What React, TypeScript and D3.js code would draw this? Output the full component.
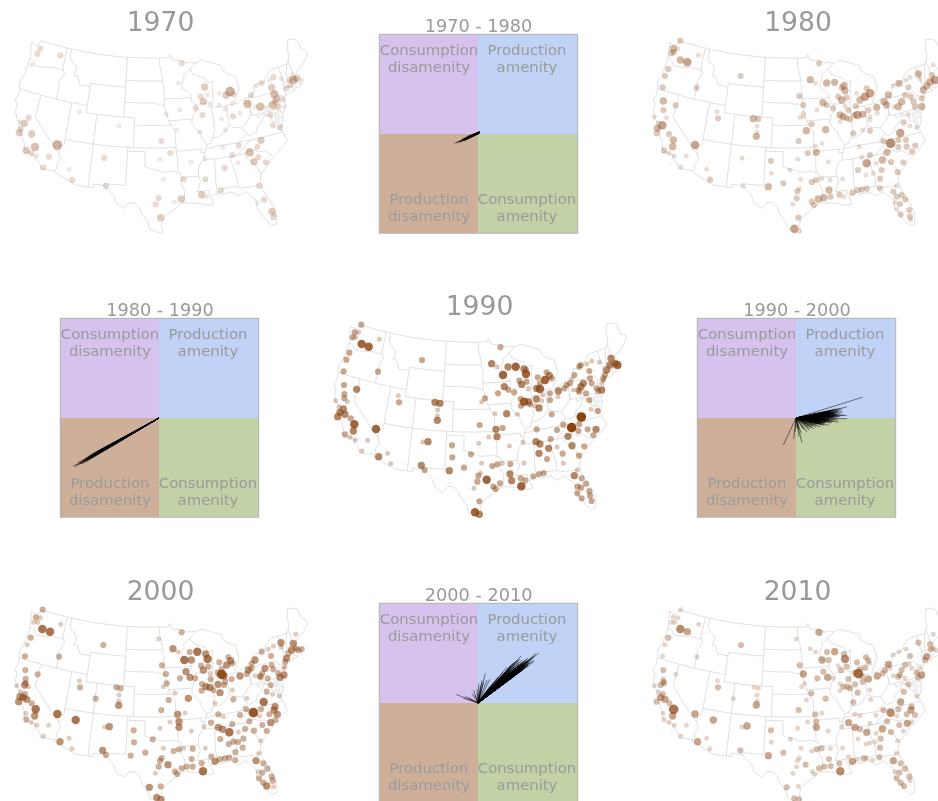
import React from 'react';
import * as d3 from 'd3';

type P = [number, number, number];

// ---- state and national borders, lon/lat ----
const outline: [number, number][] = [[-124.7,48.4],[-123.2,48.2],[-122.8,49],[-95.15,49],[-95.15,49.38],[-94.8,49.3],[-94.6,48.7],[-93.8,48.55],[-92.9,48.6],[-92,48.3],[-91.4,48.07],[-90.8,48.2],[-89.6,48],[-88.4,48.3],[-84.5,47.2],[-84.3,46.45],[-83.6,46],[-83.3,45.8],[-82,45.4],[-81.8,43.6],[-82.45,43],[-82.5,42.6],[-83.1,42.2],[-83.1,42],[-82.7,41.7],[-81.3,42.2],[-79.8,42.27],[-78.9,42.9],[-79.05,43.27],[-78.7,43.6],[-76.8,43.63],[-76.4,44.1],[-75.3,44.85],[-74.7,45],[-71.5,45],[-71.1,45.3],[-70.6,45.9],[-70.5,46.5],[-70.5,46.9],[-69.7,48],[-68.6,47.8],[-67.9,47.4],[-67.8,46.1],[-67.3,45.8],[-66.9,45.3],[-68.2,44.4],[-69.1,44],[-70.2,43.6],[-70.7,43.05],[-70.8,42.7],[-71,42.3],[-70.6,41.95],[-70,41.8],[-70.2,42.07],[-69.95,41.7],[-70.65,41.55],[-71.2,41.5],[-71.85,41.32],[-73,41.2],[-73.65,40.98],[-74,40.7],[-74,40.45],[-74.1,39.75],[-74.9,38.95],[-75.5,39.5],[-75.1,38.8],[-75.05,38.45],[-75.6,37.5],[-75.95,37.15],[-75.9,37.9],[-76.2,38.9],[-76.1,39.4],[-76.5,39.1],[-76.4,38.2],[-76.3,37.6],[-76.3,37],[-75.98,36.9],[-75.75,36.2],[-75.5,35.25],[-76.5,34.65],[-77.9,33.9],[-79,33.4],[-79.9,32.7],[-81,32],[-81.4,31],[-81.3,29.9],[-80.6,28.4],[-80.05,26.9],[-80.15,25.75],[-80.4,25.2],[-81.1,25.15],[-81.8,26.1],[-82.2,26.9],[-82.75,27.8],[-82.65,28.8],[-83.4,29.5],[-84,30.1],[-85.3,29.7],[-86.2,30.4],[-87.5,30.3],[-88,30.25],[-88.1,30.65],[-88.9,30.4],[-89.6,30.2],[-89.4,29.9],[-89.2,29.1],[-90.2,29.1],[-91.3,29.4],[-92.3,29.55],[-93.8,29.7],[-94.7,29.4],[-95.3,28.9],[-96.4,28.35],[-97.2,27.6],[-97.4,26.9],[-97.15,25.95],[-97.6,25.9],[-99.1,26.4],[-99.5,27.5],[-100.3,28.3],[-100.8,29.2],[-101.4,29.75],[-102.4,29.8],[-103.15,28.98],[-104.5,29.65],[-104.9,30.6],[-106.5,31.75],[-108.2,31.78],[-108.2,31.33],[-111.07,31.33],[-114.8,32.5],[-114.72,32.72],[-117.12,32.53],[-117.3,33],[-118.4,33.75],[-118.5,34.03],[-119.2,34.15],[-120.5,34.45],[-120.65,35.15],[-121.9,36.6],[-122,36.95],[-122.5,37.5],[-122.5,37.8],[-123,38],[-123.7,38.9],[-123.8,39.8],[-124.35,40.4],[-124.1,41],[-124.2,42],[-124.55,42.85],[-124.1,44],[-123.95,46.2],[-124.05,46.7],[-124.7,48.4]];
const innerBorders: [number, number][][] = [
  [[-124,46.25],[-123.4,46.2],[-123,46.1],[-122.8,45.7],[-122.2,45.6],[-121.2,45.65],[-119.3,45.93],[-119,46],[-116.92,46]],
  [[-117.03,49],[-117.04,46.4],[-116.92,46],[-116.46,45.6],[-116.85,44.9],[-117.2,44.4],[-117.03,43.85],[-117.03,42]],
  [[-124.2,42],[-111.05,42]],
  [[-120,42],[-120,39],[-114.63,35]],
  [[-114.63,35],[-114.15,34.27],[-114.5,33.9],[-114.72,33.4],[-114.5,33],[-114.72,32.72]],
  [[-114.63,35],[-114.75,36.1],[-114.05,36.2],[-114.05,37]],
  [[-114.04,42],[-114.05,37]],
  [[-114.05,37],[-94.62,37]],
  [[-111.05,42],[-111.05,41],[-102.05,41]],
  [[-109.05,41],[-109.05,31.33]],
  [[-116.05,49],[-116.05,48],[-115.7,47.45],[-114.8,47],[-114.3,46.65],[-114.5,45.55],[-113.9,45.65],[-113.45,45.05],[-113,44.45],[-112.3,44.55],[-111.5,44.55],[-111.05,44.48]],
  [[-111.05,44.48],[-111.05,42]],
  [[-111.05,44.48],[-111.05,45],[-104.05,45]],
  [[-104.05,49],[-104.05,41]],
  [[-102.05,41],[-102.05,37]],
  [[-102.05,40],[-95.3,40]],
  [[-104.05,45.94],[-96.56,45.94]],
  [[-104.05,43],[-98.5,43],[-97.9,42.8],[-97.2,42.85],[-96.45,42.5]],
  [[-103,37],[-103.04,36.5],[-100,36.5],[-100,34.56],[-99.2,34.3],[-98.1,34.13],[-97.2,33.8],[-96.5,33.8],[-95.2,33.9],[-94.48,33.64]],
  [[-103.04,36.5],[-103.06,32],[-106.6,32],[-106.5,31.75]],
  [[-94.48,33.64],[-94.04,33.55],[-94.04,32],[-93.55,31.2],[-93.7,30.3],[-93.85,29.7]],
  [[-94.48,33.64],[-94.43,35.4],[-94.62,36.5],[-94.62,39.1],[-94.9,39.4],[-95.3,40]],
  [[-94.62,36.5],[-90.15,36.5],[-90.37,36],[-89.7,36]],
  [[-94.04,33.02],[-91.17,33]],
  [[-89.15,37],[-89.5,36.5],[-89.7,36],[-90.07,35.1],[-90.6,34.7],[-91.1,33.9],[-91.17,33],[-90.9,32.3],[-91.6,31],[-89.73,31],[-89.8,30.6],[-89.55,30.2]],
  [[-88.2,35],[-88.47,31.9],[-88.4,30.3]],
  [[-87.5,30.3],[-87.6,31],[-85.05,31]],
  [[-85.6,35],[-85.18,32.87],[-85,32.3],[-85.05,31],[-84.86,30.7],[-82.2,30.55],[-82.05,30.36],[-82,30.75],[-81.45,30.72]],
  [[-90.1,35],[-83.1,35]],
  [[-84.32,35],[-83.1,35.77],[-81.68,36.59]],
  [[-83.1,35],[-82.9,34.5],[-82,33.5],[-81.5,33],[-81.1,32.1],[-80.9,32.05]],
  [[-83.1,35],[-82.3,35.2],[-81.05,35.15],[-80.8,34.82],[-79.67,34.8],[-78.55,33.86]],
  [[-89.5,36.5],[-88.07,36.5],[-88.07,36.68],[-83.68,36.6],[-81.68,36.59],[-75.87,36.55]],
  [[-89.15,37],[-88.5,37.1],[-88.05,37.8],[-87.1,37.8],[-86.5,38],[-85.8,38.3],[-85.4,38.7],[-84.8,39.1],[-84.3,38.8],[-83.7,38.65],[-82.6,38.4],[-82,37.55]],
  [[-83.68,36.6],[-81.97,37.54],[-81.68,37.2],[-80.3,37.5],[-79.95,38.2],[-79.3,38.4],[-78.87,38.76],[-78.35,39.4],[-77.83,39.13]],
  [[-82.6,38.4],[-81.75,39],[-81,39.55],[-80.6,40],[-80.52,40.64],[-80.52,42.1]],
  [[-80.52,40.64],[-80.52,39.72],[-75.79,39.72]],
  [[-79.48,39.72],[-79.48,39.2],[-78.4,39.6],[-77.72,39.32],[-77.05,38.85],[-77.3,38.4],[-76.3,37.95]],
  [[-75.79,39.72],[-75.7,38.45],[-75.05,38.45]],
  [[-75.79,39.72],[-75.5,39.8],[-75.1,40],[-75.2,40.7],[-74.7,41.35],[-73.9,41]],
  [[-79.76,42.27],[-79.76,42],[-75.35,42],[-74.7,41.35]],
  [[-73.65,41],[-73.5,41.3],[-73.5,42.05],[-73.27,42.75],[-73.25,43.6],[-73.35,45]],
  [[-73.5,42.05],[-71.38,42.02],[-71.2,41.5]],
  [[-71.8,42.02],[-71.85,41.32]],
  [[-73.27,42.75],[-71.3,42.7],[-70.85,42.88]],
  [[-72.46,42.73],[-72.3,43.6],[-72.05,44.1],[-71.5,45]],
  [[-71.08,45.3],[-70.98,43.4],[-70.7,43.07]],
  [[-87.2,41.76],[-84.8,41.73],[-83.45,41.73],[-82.9,41.9]],
  [[-84.8,41.73],[-84.8,39.1]],
  [[-87.53,41.76],[-87.53,39.35],[-87.6,38.7],[-88.05,37.8]],
  [[-87.53,41.76],[-87.2,42.5],[-87,43.2],[-86.9,44.6],[-86.6,45.3],[-87.6,45.1],[-88,45.8],[-89,46.1],[-90.4,46.55],[-90.9,47.3]],
  [[-90.64,42.5],[-87.2,42.5]],
  [[-90.64,42.5],[-90.2,41.8],[-91.1,41.2],[-91.42,40.4],[-91.5,40],[-90.7,39],[-90.2,38.8],[-90.2,38.4],[-89.5,37.3],[-89.15,37]],
  [[-90.64,42.5],[-91.2,43],[-91.22,43.5],[-91.25,43.85],[-92,44.4],[-92.8,44.75],[-92.75,45.6],[-92.3,46.1],[-92.3,46.65],[-92,46.7],[-90.9,47.3],[-89.6,48]],
  [[-96.45,43.5],[-91.22,43.5]],
  [[-95.77,40.58],[-91.73,40.61],[-91.42,40.4]],
  [[-96.45,43.5],[-96.45,42.5],[-96.1,41.7],[-95.9,41.2],[-95.77,40.58],[-95.3,40]],
  [[-96.45,43.5],[-96.45,45.3],[-96.85,45.6],[-96.56,45.94],[-96.85,46.9],[-97.2,48],[-97.23,49]],
  [[-120.45,34.03],[-119.6,34.03]],
  [[-118.6,33.45],[-118.35,33.35]],
  [[-118.55,32.95],[-118.35,32.82]],
];

// ---- cities: read-off map position and size class per decade ----
const cities1970: P[] = [[121,146,2],[112,161,2],[181,166,2],[96,195,1],[86,353,2],[73,370,3],[60,365,1],[62,386,2],[58,398,3],[95,402,3],[105,441,4],[172,435,5],[79,451,3],[94,460,2],[109,468,1],[147,470,2],[130,502,2],[207,508,1],[217,540,2],[238,335,1],[357,377,1],[313,474,2],[318,558,2],[484,423,2],[511,459,2],[480,478,1],[490,538,1],[476,594,2],[467,613,2],[523,606,1],[544,597,3],[482,653,3],[573,486,1],[551,538,2],[605,584,3],[620,590,1],[662,570,2],[498,342,1],[530,390,1],[545,190,2],[535,249,1],[539,329,1],[587,325,2],[607,345,2],[614,261,3],[602,290,2],[622,285,1],[610,305,3],[629,316,1],[658,280,1],[690,275,5],[678,286,3],[700,283,2],[657,315,1],[676,327,1],[665,356,1],[699,349,2],[720,340,1],[697,310,1],[676,390,1],[600,395,1],[668,442,1],[716,437,2],[697,465,2],[615,476,1],[735,305,1],[743,312,4],[753,285,2],[765,320,1],[781,320,4],[800,323,1],[769,257,1],[785,249,2],[820,231,2],[808,241,1],[815,262,3],[845,236,1],[823,283,4],[830,297,3],[847,298,2],[818,315,4],[835,320,2],[825,305,2],[853,320,1],[811,344,2],[819,376,2],[840,382,2],[860,265,2],[870,255,2],[880,240,4],[870,240,2],[890,235,3],[905,240,1],[875,225,1],[783,421,3],[772,441,2],[749,457,4],[775,471,2],[762,485,3],[798,487,2],[714,488,1],[674,504,2],[616,538,2],[778,558,2],[792,599,2],[773,608,1],[816,634,3],[820,652,2],[822,643,1]];
const cities1980: P[] = [[121,122,2],[100,146,3],[113,146,1],[102,157,2],[94,160,2],[175,166,1],[121,180,3],[142,187,4],[85,207,2],[75,228,2],[68,262,2],[70,303,3],[70,330,2],[107,316,2],[79,353,1],[43,350,1],[55,368,1],[67,376,4],[52,385,3],[50,400,2],[87,402,2],[100,420,3],[98,440,3],[165,435,4],[72,451,2],[87,460,1],[103,468,1],[139,468,1],[123,501,1],[200,508,1],[210,539,2],[170,263,2],[302,228,2],[231,335,1],[234,355,2],[340,356,3],[355,357,2],[351,378,1],[351,397,1],[349,409,3],[306,474,1],[310,558,1],[393,483,2],[394,520,1],[385,560,3],[430,550,2],[450,510,1],[472,574,2],[478,566,1],[515,546,2],[528,540,2],[545,536,1],[482,538,1],[470,595,2],[458,613,1],[515,605,2],[522,615,2],[535,597,3],[552,593,3],[475,653,2],[463,686,4],[478,692,1],[503,459,2],[529,457,3],[473,478,1],[476,423,2],[499,392,3],[515,372,2],[565,486,1],[527,437,1],[546,430,1],[570,540,1],[567,570,3],[572,590,2],[598,584,2],[612,590,1],[608,537,1],[537,190,2],[511,239,3],[527,250,1],[478,288,2],[490,315,2],[531,329,1],[549,308,3],[560,315,2],[579,325,2],[490,340,1],[480,352,1],[490,350,1],[557,389,3],[560,249,3],[584,247,3],[612,257,3],[605,263,2],[615,272,3],[595,290,2],[605,300,3],[620,293,2],[625,330,2],[615,318,1],[600,345,3],[610,350,3],[620,355,2],[600,365,1],[630,358,2],[650,280,1],[680,265,2],[690,280,4],[675,290,4],[660,300,3],[648,318,2],[652,345,4],[668,343,3],[642,345,2],[685,330,2],[710,322,3],[690,360,1],[712,340,1],[668,390,1],[690,350,1],[690,392,2],[640,400,2],[658,440,1],[745,285,3],[732,305,3],[740,315,3],[762,320,1],[775,320,3],[785,305,3],[795,285,2],[812,290,2],[820,305,2],[845,320,3],[825,320,2],[760,257,1],[777,250,3],[798,241,1],[810,232,1],[835,222,3],[805,262,2],[840,238,1],[845,295,2],[860,258,3],[850,270,3],[870,245,3],[885,240,4],[875,225,2],[880,195,1],[805,343,1],[791,367,2],[810,378,1],[830,382,1],[781,399,4],[730,423,2],[752,430,5],[775,420,2],[798,420,2],[800,440,2],[826,437,2],[816,455,2],[775,441,2],[741,457,3],[727,480,3],[753,486,2],[790,487,2],[708,490,1],[773,516,2],[690,465,2],[665,472,1],[680,490,4],[700,520,1],[654,510,2],[678,525,1],[725,510,2],[720,536,2],[720,565,2],[680,566,2],[665,568,2],[652,570,2],[637,578,2],[770,558,1],[760,575,2],[770,590,2],[785,585,2],[796,598,2],[765,608,1],[780,612,2],[770,628,1],[782,643,2],[808,630,2],[810,650,2],[812,660,1]];
const cities1990: P[] = [[124,119,2],[104,142,2],[116,142,1],[98,157,2],[107,157,1],[178,163,1],[125,177,4],[146,185,4],[88,203,2],[79,224,2],[71,259,2],[306,225,2],[174,260,2],[72,300,2],[110,313,3],[73,327,2],[73,340,2],[82,350,1],[47,347,1],[57,365,1],[70,372,3],[60,382,3],[75,388,3],[53,395,3],[92,400,2],[103,418,4],[100,438,3],[168,432,4],[75,448,2],[90,457,1],[106,465,1],[143,466,1],[126,498,1],[203,505,1],[176,515,3],[212,536,1],[235,332,1],[237,352,2],[345,352,3],[360,355,3],[353,375,1],[352,393,1],[352,406,3],[324,470,3],[308,471,1],[304,541,3],[314,555,2],[396,481,2],[397,517,2],[388,557,3],[432,548,2],[453,508,2],[485,535,1],[517,543,2],[532,538,2],[547,535,1],[475,572,2],[482,564,1],[472,590,2],[500,584,4],[462,610,1],[520,605,2],[527,612,2],[540,595,2],[478,649,2],[465,682,4],[478,688,3],[506,456,1],[531,455,3],[476,475,1],[479,420,2],[528,433,3],[548,429,2],[560,386,3],[525,386,1],[592,388,1],[568,483,1],[485,350,1],[495,340,2],[534,325,2],[553,305,3],[565,314,2],[582,322,2],[541,187,2],[515,236,3],[531,246,1],[564,246,3],[587,245,4],[549,270,4],[612,252,3],[618,267,4],[618,255,2],[598,287,2],[620,290,2],[605,298,3],[625,312,1],[602,342,2],[612,350,4],[625,350,3],[603,362,2],[630,358,2],[649,342,3],[657,369,3],[645,362,1],[665,347,1],[690,345,2],[714,335,1],[653,277,2],[680,262,2],[688,272,3],[675,285,4],[695,280,2],[660,295,2],[650,310,3],[660,312,4],[668,330,1],[690,325,2],[715,318,3],[695,388,2],[650,433,2],[648,470,3],[660,477,3],[657,505,3],[686,490,3],[692,462,2],[711,486,1],[681,522,2],[728,506,2],[612,534,1],[609,471,1],[730,419,2],[755,428,5],[784,396,5],[778,418,2],[803,433,2],[828,433,3],[820,451,2],[775,438,2],[744,454,3],[711,435,2],[756,482,3],[793,484,2],[777,512,2],[730,535,1],[571,537,2],[570,567,3],[575,587,3],[602,580,2],[616,586,2],[604,604,4],[640,574,2],[657,567,2],[671,564,2],[772,555,1],[763,572,3],[785,580,2],[773,605,2],[798,596,2],[783,608,2],[772,625,2],[785,640,2],[808,618,2],[810,632,2],[815,648,2],[740,300,2],[733,310,2],[750,295,2],[763,270,2],[755,283,1],[782,240,2],[800,237,1],[815,228,1],[838,232,1],[760,315,1],[778,320,2],[790,295,3],[783,305,3],[775,315,2],[810,280,2],[798,325,2],[815,295,2],[830,310,2],[845,315,3],[835,318,2],[808,345,2],[813,373,1],[833,378,2],[808,258,2],[845,295,1],[850,285,1],[860,255,3],[855,270,2],[850,280,2],[873,220,3],[870,240,3],[885,235,3],[892,240,4],[778,245,2]];
const cities2000: P[] = [[128,119,2],[108,142,2],[121,143,1],[101,157,1],[113,157,1],[182,163,1],[127,177,4],[150,185,4],[92,203,2],[82,224,1],[75,259,2],[310,225,2],[177,260,2],[476,207,1],[545,187,2],[76,300,2],[113,313,2],[77,327,2],[77,340,2],[86,350,1],[50,347,1],[62,365,1],[74,345,3],[75,372,2],[70,382,3],[60,380,3],[80,388,3],[56,395,3],[95,400,2],[107,418,4],[104,438,3],[172,432,4],[77,430,1],[79,448,2],[94,457,1],[110,465,1],[146,466,1],[130,498,1],[207,505,1],[227,450,4],[180,515,3],[216,536,1],[238,332,1],[240,352,2],[287,386,2],[349,352,2],[362,355,2],[357,375,1],[356,393,1],[356,406,3],[328,470,3],[314,471,1],[308,541,3],[318,555,2],[401,481,2],[402,517,2],[392,557,2],[436,548,2],[458,508,2],[490,535,1],[521,543,2],[537,538,2],[551,535,1],[578,536,2],[480,572,2],[485,564,2],[476,590,2],[504,584,3],[466,610,1],[525,605,2],[532,612,2],[545,595,2],[560,590,2],[578,590,2],[575,567,2],[482,649,2],[448,652,3],[470,682,3],[483,688,3],[510,456,1],[480,475,1],[484,420,2],[537,455,3],[537,472,3],[533,433,3],[555,429,1],[574,483,1],[506,390,2],[525,370,1],[490,350,1],[500,340,2],[498,312,2],[486,286,2],[540,325,2],[558,305,3],[570,322,3],[585,325,2],[565,385,3],[519,236,3],[535,246,1],[569,246,2],[592,245,4],[553,270,4],[574,270,3],[617,252,3],[623,267,4],[625,290,2],[603,287,2],[610,300,3],[630,312,1],[632,328,2],[606,342,2],[618,350,3],[630,352,3],[605,362,2],[640,360,2],[654,343,3],[660,368,3],[675,335,2],[695,327,2],[720,318,3],[672,345,2],[697,360,1],[645,400,1],[700,388,2],[740,385,1],[658,277,2],[685,262,2],[692,272,3],[680,285,3],[697,280,2],[665,297,2],[653,308,2],[665,313,5],[672,318,3],[655,433,2],[670,440,1],[633,458,2],[655,472,3],[668,478,3],[688,487,4],[697,462,2],[715,486,1],[735,477,2],[762,482,2],[661,507,2],[686,522,2],[700,515,2],[714,516,2],[730,506,2],[728,533,2],[706,546,2],[782,512,1],[616,535,1],[612,470,1],[738,417,2],[760,428,5],[791,396,4],[783,418,2],[808,433,2],[832,433,3],[822,420,3],[825,410,3],[812,458,3],[826,450,2],[778,438,1],[748,454,2],[787,465,2],[800,483,2],[720,435,2],[605,580,2],[634,560,2],[645,574,3],[609,604,4],[660,567,2],[675,565,2],[688,563,2],[706,570,2],[777,550,1],[768,572,3],[790,580,2],[775,605,1],[802,596,2],[787,608,2],[777,625,2],[790,638,2],[800,648,3],[815,620,2],[818,632,2],[820,650,1],[745,300,3],[740,312,2],[755,295,2],[765,270,3],[755,280,2],[785,245,2],[805,237,1],[820,228,1],[843,218,3],[887,193,1],[843,232,1],[765,317,1],[782,322,2],[795,295,3],[787,310,2],[780,318,2],[815,285,2],[803,325,2],[820,298,2],[835,310,2],[852,315,3],[840,322,3],[812,345,2],[818,373,1],[838,378,1],[800,365,2],[813,258,2],[850,295,1],[855,290,1],[860,265,3],[855,275,2],[880,220,3],[875,240,3],[865,250,2],[888,235,2],[905,237,2],[895,240,2]];
const cities2010: P[] = [[122,119,1],[100,142,1],[114,143,1],[95,157,1],[105,157,1],[176,163,1],[121,177,4],[142,185,3],[85,203,2],[75,224,1],[68,259,1],[303,225,2],[171,260,1],[469,207,1],[537,187,3],[70,300,2],[107,313,1],[70,327,1],[70,335,2],[62,345,2],[72,340,2],[43,347,1],[55,365,1],[68,372,2],[62,382,3],[75,388,3],[50,395,2],[88,400,2],[101,418,5],[98,438,3],[165,432,3],[69,430,1],[72,448,1],[87,457,1],[103,466,1],[139,466,1],[123,498,1],[200,505,1],[220,450,3],[173,515,3],[209,536,1],[232,332,1],[234,352,2],[280,386,1],[342,352,1],[355,355,1],[351,375,1],[351,393,1],[349,405,3],[321,468,3],[306,471,1],[301,541,2],[393,481,2],[394,517,1],[385,557,3],[430,548,2],[451,508,1],[483,535,1],[515,543,1],[530,538,2],[545,535,2],[571,536,1],[472,572,1],[478,564,1],[470,590,1],[497,584,2],[459,610,1],[517,605,1],[524,612,1],[537,595,2],[553,590,2],[572,588,2],[567,567,2],[475,649,1],[440,652,2],[463,685,2],[477,688,2],[503,456,1],[473,475,1],[476,420,2],[529,455,2],[529,472,3],[526,433,2],[546,429,1],[565,483,1],[499,390,1],[514,370,2],[485,350,1],[494,340,1],[490,312,3],[479,286,2],[532,325,2],[550,305,2],[563,322,3],[579,325,1],[557,386,2],[511,236,1],[527,246,1],[561,246,2],[584,245,3],[546,270,3],[566,270,2],[612,252,2],[615,267,4],[620,290,2],[595,287,1],[603,300,2],[625,327,2],[600,342,1],[610,350,2],[622,350,2],[600,362,1],[630,355,2],[645,343,2],[653,368,2],[668,335,2],[685,327,3],[712,318,3],[690,360,1],[640,397,2],[692,388,1],[651,277,2],[678,262,2],[685,272,2],[675,293,2],[688,280,1],[660,297,2],[645,308,2],[655,311,5],[665,318,2],[645,433,1],[660,437,1],[605,470,1],[626,458,3],[645,472,3],[660,478,2],[680,487,3],[690,460,1],[708,490,1],[727,477,3],[753,486,2],[654,507,1],[678,522,1],[690,518,1],[705,516,1],[722,506,2],[720,533,2],[698,570,1],[773,512,1],[608,535,1],[730,420,2],[752,428,4],[782,396,3],[775,418,2],[800,433,2],[825,435,2],[813,420,3],[815,410,2],[802,460,3],[816,455,1],[770,438,1],[741,454,2],[778,465,2],[790,483,1],[708,435,1],[598,580,2],[625,560,1],[637,574,3],[601,604,4],[652,567,1],[672,565,2],[680,565,1],[718,562,2],[770,550,1],[760,572,3],[782,580,2],[765,605,1],[795,596,2],[778,608,2],[770,625,2],[782,638,2],[792,648,2],[808,620,2],[810,632,1],[745,283,3],[735,300,2],[728,310,2],[750,295,1],[760,255,1],[777,245,1],[798,237,1],[835,218,2],[880,193,1],[760,317,1],[775,320,2],[785,300,2],[795,285,2],[780,315,2],[808,282,1],[795,325,1],[815,295,1],[830,308,2],[845,315,3],[835,322,2],[805,343,2],[791,365,2],[830,378,1],[810,258,2],[840,295,1],[860,260,3],[855,270,2],[870,222,2],[872,238,2],[880,235,1],[888,240,1]];

// ---- quadrant change vectors, [x0,y0,x1,y1] on a -1..1 plane ----
const change7080: number[][] = [[.023,.023,-.24,-.094],[.02,.022,-.22,-.09],[.02,.02,-.2,-.08],[.015,.018,-.18,-.072],[.015,.015,-.16,-.06],[.012,.015,-.15,-.056],[.01,.012,-.135,-.05],[.01,.01,-.12,-.04],[.008,.012,-.14,-.06],[.005,.008,-.1,-.035],[.012,.008,-.11,-.05],[.008,.005,-.09,-.035],[.02,.015,-.13,-.052],[.018,.012,-.15,-.065],[.005,.004,-.17,-.075],[.015,.025,-.12,-.03],[.01,.02,-.16,-.05],[.02,.01,-.14,-.07],[.012,.005,-.19,-.085],[.016,.02,-.1,-.022]];
const change8090: number[][] = [[0,0,-.87,-.487],[0,0,-.85,-.49],[0,0,-.83,-.47],[0,0,-.8,-.465],[0,0,-.82,-.45],[0,0,-.78,-.445],[0,0,-.75,-.43],[0,0,-.72,-.41],[0,0,-.7,-.395],[0,0,-.66,-.38],[0,0,-.63,-.36],[0,0,-.6,-.34],[0,0,-.58,-.335],[0,0,-.55,-.31],[0,0,-.5,-.285],[0,0,-.45,-.26],[0,0,-.4,-.225],[0,0,-.75,-.41],[0,0,-.68,-.375],[0,0,-.65,-.37],[0,0,-.62,-.34],[0,0,-.52,-.3],[0,0,-.72,-.395],[0,0,-.8,-.45],[0,0,-.6,-.33],[0,0,-.57,-.32],[0,0,-.48,-.27],[0,0,-.43,-.245],[0,0,-.7,-.41],[0,0,-.76,-.42],[0,0,-.78,-.46],[0,0,-.74,-.44],[0,0,-.68,-.4],[0,0,-.64,-.345],[0,0,-.59,-.32],[0,0,-.71,-.38],[0,0,-.55,-.325],[0,0,-.47,-.28],[0,0,-.66,-.355],[0,0,-.62,-.365]];
const change9000: number[][] = [[0,0,.668,.208],[0,0,-.128,-.272],[0,0,.06,-.25],[0,0,.03,-.19],[0,0,-.023,-.208],[0,0,.51,.11],[0,0,.51,.027],[0,0,.51,-.007],[0,0,.43,-.04],[0,0,.33,-.074],[0,0,.245,-.09],[0,0,.18,-.107],[0,0,.11,-.14],[0,0,.446,.094],[0,0,.38,.077],[0,0,.47,.06],[0,0,.45,.04],[0,0,.42,.08],[0,0,.4,.06],[0,0,.44,.015],[0,0,.41,.025],[0,0,.39,.02],[0,0,.36,.055],[0,0,.35,.03],[0,0,.37,0],[0,0,.34,-.01],[0,0,.32,.04],[0,0,.31,.015],[0,0,.3,-.02],[0,0,.33,-.04],[0,0,.29,-.05],[0,0,.27,.03],[0,0,.26,-.03],[0,0,.25,-.06],[0,0,.23,.01],[0,0,.22,-.04],[0,0,.21,-.07],[0,0,.2,-.09],[0,0,.19,.02],[0,0,.17,-.05],[0,0,.15,-.08],[0,0,.14,-.11],[0,0,.12,-.09],[0,0,.09,-.12],[0,0,.07,-.11],[0,0,.05,-.15],[0,0,.03,-.12],[0,0,.01,-.1],[0,0,-.01,-.14],[0,0,.4,.09],[0,0,.35,.075],[0,0,.3,.06],[0,0,.28,.05],[0,0,.25,.045],[0,0,.38,-.03],[0,0,.36,-.05],[0,0,.28,-.07],[0,0,.42,-.02],[0,0,.46,.08],[0,0,.48,.03],[0,0,.33,.065],[0,0,.37,.045],[0,0,.34,.02],[0,0,.31,.05],[0,0,.29,.02],[0,0,.27,-.01],[0,0,.26,.055],[0,0,.24,-.02],[0,0,.32,-.025],[0,0,.35,-.02],[0,0,.3,-.035],[0,0,.28,-.045],[0,0,.24,-.045],[0,0,.22,-.06],[0,0,.2,-.03],[0,0,.18,-.07],[0,0,.16,-.1],[0,0,.13,-.12],[0,0,.23,.04],[0,0,.2,.035],[0,0,.17,.025],[0,0,.15,.01],[0,0,.13,-.03],[0,0,.11,-.06],[0,0,.39,.05],[0,0,.43,.04],[0,0,.37,.03],[0,0,.36,.07],[0,0,.34,.05],[0,0,.32,.06],[0,0,.3,.04],[0,0,.33,.01],[0,0,.31,-.01],[0,0,.35,.005],[0,0,.37,.015],[0,0,.39,.035],[0,0,.41,.05],[0,0,.29,-.015],[0,0,.27,-.045],[0,0,.25,-.01],[0,0,.23,-.03],[0,0,.26,-.07],[0,0,.29,.035],[0,0,.24,.02],[0,0,.22,.02],[0,0,.21,-.02],[0,0,.19,-.05],[0,0,.17,-.08],[0,0,.19,-.01],[0,0,.4,-.015],[0,0,.38,.01],[0,0,.43,.065],[0,0,.36,-.035],[0,0,.35,.062],[0,0,.35,.045],[0,0,.35,.018],[0,0,.33,.048],[0,0,.33,.025],[0,0,.33,-.012],[0,0,.33,-.027],[0,0,.31,.033],[0,0,.31,.002],[0,0,.31,-.03],[0,0,.28,.012],[0,0,.28,-.005],[0,0,.28,-.03],[0,0,.28,-.058],[0,0,.38,.06],[0,0,.38,.04],[0,0,.4,.03],[0,0,.4,.008],[0,0,.42,.065],[0,0,.42,.01],[0,0,.3,.025],[0,0,.3,.008],[0,0,.3,-.05],[0,0,.26,.01],[0,0,.26,-.015],[0,0,.26,-.05],[0,0,.24,.035],[0,0,.22,.005],[0,0,.22,-.02],[0,0,.24,-.06],[0,0,.2,.01],[0,0,.2,-.055],[0,0,.18,.01],[0,0,.18,-.04],[0,0,.16,-.02]];
const change0010: number[][] = [[0,0,.61,.503],[0,0,.58,.495],[0,0,.433,.473],[0,0,.56,.43],[0,0,.55,.46],[0,0,.52,.44],[0,0,.5,.41],[0,0,.48,.42],[0,0,.46,.37],[0,0,.45,.4],[0,0,.42,.35],[0,0,.4,.36],[0,0,.38,.32],[0,0,.36,.33],[0,0,.35,.29],[0,0,.33,.3],[0,0,.31,.26],[0,0,.3,.28],[0,0,.28,.24],[0,0,.26,.25],[0,0,.25,.2],[0,0,.23,.22],[0,0,.21,.17],[0,0,.2,.2],[0,0,.18,.16],[0,0,.16,.17],[0,0,.15,.12],[0,0,.13,.14],[0,0,.11,.11],[0,0,.09,.12],[0,0,.08,.08],[0,0,.06,.09],[0,0,-.218,.084],[0,0,-.127,.067],[0,0,-.06,.094],[0,0,-.044,.127],[0,0,.074,.295],[0,0,.04,.228],[0,0,.007,.195],[0,0,-.01,.14],[0,0,.024,.17],[0,0,.056,.21],[0,0,.09,.23],[0,0,.12,.24],[0,0,.03,.13],[0,0,.04,.2],[0,0,0,.1],[0,0,-.03,.08],[0,0,-.09,.05],[0,0,-.15,.05],[0,0,.5,.39],[0,0,.47,.4],[0,0,.44,.36],[0,0,.41,.37],[0,0,.39,.31],[0,0,.37,.3],[0,0,.34,.28],[0,0,.32,.31],[0,0,.29,.23],[0,0,.27,.23],[0,0,.24,.21],[0,0,.22,.18],[0,0,.19,.19],[0,0,.17,.14],[0,0,.14,.15],[0,0,.1,.13],[0,0,.54,.45],[0,0,.57,.47],[0,0,.53,.42],[0,0,.49,.38],[0,0,.51,.4],[0,0,.47,.36],[0,0,.45,.38],[0,0,.43,.34],[0,0,.41,.33],[0,0,.39,.34],[0,0,.37,.33],[0,0,.35,.31],[0,0,.33,.27],[0,0,.31,.29],[0,0,.29,.26],[0,0,.27,.25],[0,0,.25,.23],[0,0,.23,.19],[0,0,.21,.2],[0,0,.19,.15],[0,0,.17,.18],[0,0,.15,.16],[0,0,.13,.11],[0,0,.11,.14],[0,0,.46,.4],[0,0,.43,.38],[0,0,.4,.33],[0,0,.38,.35],[0,0,.36,.28],[0,0,.52,.41],[0,0,.49,.44],[0,0,.44,.4],[0,0,.29,.36],[0,0,.25,.31],[0,0,.22,.27],[0,0,.35,.4],[0,0,.38,.42],[0,0,.33,.37],[0,0,.2,.26],[0,0,.17,.22],[0,0,.15,.2],[0,0,.12,.17],[0,0,.4,.43],[0,0,.42,.44],[0,0,.56,.415],[0,0,.5,.37],[0,0,.45,.335],[0,0,.4,.3],[0,0,.35,.26],[0,0,.3,.225],[0,0,.25,.19],[0,0,.2,.15],[0,0,.15,.115],[0,0,.1,.08],[0,0,.27,.3],[0,0,.31,.34],[0,0,.36,.36],[0,0,.23,.25],[0,0,.19,.22],[0,0,.33,.33],[0,0,.29,.3],[0,0,.26,.27],[0,0,.24,.27],[0,0,.21,.23],[0,0,.34,.25],[0,0,.3,.24],[0,0,.27,.21],[0,0,.42,.32],[0,0,.38,.29],[0,0,.47,.38],[0,0,.44,.33],[0,0,.32,.24],[0,0,.5,.38],[0,0,.5,.4],[0,0,.5,.42],[0,0,.5,.43],[0,0,.5,.45],[0,0,.47,.35],[0,0,.47,.37],[0,0,.47,.39],[0,0,.47,.41],[0,0,.47,.43],[0,0,.44,.34],[0,0,.44,.35],[0,0,.44,.37],[0,0,.44,.38],[0,0,.44,.39],[0,0,.44,.41],[0,0,.44,.43],[0,0,.41,.31],[0,0,.41,.32],[0,0,.41,.34],[0,0,.41,.35],[0,0,.41,.36],[0,0,.41,.38],[0,0,.41,.39],[0,0,.41,.41],[0,0,.41,.43],[0,0,.37,.28],[0,0,.37,.29],[0,0,.37,.31],[0,0,.37,.32],[0,0,.37,.34],[0,0,.37,.35],[0,0,.37,.37],[0,0,.37,.39],[0,0,.37,.41],[0,0,.33,.25],[0,0,.33,.26],[0,0,.33,.28],[0,0,.33,.29],[0,0,.33,.31],[0,0,.33,.32],[0,0,.33,.34],[0,0,.33,.35],[0,0,.33,.38]];

const mapPanels = [
  { title: '1970', cities: cities1970, ox: 0, oy: 0, fade: 0.42, tx: 160.5, ty: 30.5 },
  { title: '1980', cities: cities1980, ox: 640, oy: 0, fade: 0.6, tx: 798, ty: 31 },
  { title: '1990', cities: cities1990, ox: 320, oy: 285, fade: 1, tx: 479.5, ty: 314.5 },
  { title: '2000', cities: cities2000, ox: 0, oy: 570, fade: 0.9, tx: 160.5, ty: 599.5 },
  { title: '2010', cities: cities2010, ox: 640, oy: 570, fade: 0.75, tx: 797.5, ty: 599.5 },
];
const mapOffset = [
  [0, 0], [638, 0], [319, 284], [0, 569], [638, 569],
];
const quadPanels = [
  { title: '1970 - 1980', change: change7080, left: 379.3, top: 34.3, tx: 478.5, ty: 31.7 },
  { title: '1980 - 1990', change: change8090, left: 60.3, top: 318.3, tx: 160, ty: 316 },
  { title: '1990 - 2000', change: change9000, left: 697.3, top: 318.3, tx: 797, ty: 316 },
  { title: '2000 - 2010', change: change0010, left: 379.3, top: 603.3, tx: 478.7, ty: 601 },
];
const quadrants = [
  { c: '#d5c3ee', sx: 0, sy: 0, lines: ['Consumption', 'disamenity'], ly: 0 },
  { c: '#c0d2f5', sx: 1, sy: 0, lines: ['Production', 'amenity'], ly: 0 },
  { c: '#ceb09a', sx: 0, sy: 1, lines: ['Production', 'disamenity'], ly: 149 },
  { c: '#c2d1a6', sx: 1, sy: 1, lines: ['Consumption', 'amenity'], ly: 149 },
];

const FONT = '"DejaVu Sans", sans-serif';
const W = 198.4;
const H = 199;
const SPLIT_X = 98.7;
const SPLIT_Y = 99.7;

const projection = d3.geoConicConformal().parallels([45, 45]).rotate([98.8, 0]).center([0, 38]).scale(408).translate([152, 0]);
const Y_STRETCH = 1.05;
const Y_ORIGIN = 140.5;
const project = (p: [number, number]): [number, number] => {
  const q = projection(p) as [number, number];
  return [q[0], Y_ORIGIN + q[1] * Y_STRETCH];
};

function densify(line: [number, number][]) {
  const out: [number, number][] = [];
  line.forEach((p, i) => {
    if (i === 0) { out.push(p); return; }
    const q = line[i - 1];
    const n = Math.max(1, Math.ceil(Math.abs(p[0] - q[0])));
    for (let k = 1; k <= n; k++) out.push([q[0] + ((p[0] - q[0]) * k) / n, q[1] + ((p[1] - q[1]) * k) / n]);
  });
  return out;
}
const lineGen = d3.line<[number, number]>().x((d) => d[0]).y((d) => d[1]);
const borderPath = [outline, ...innerBorders].map((l) => lineGen(densify(l).map(project))).join('');

const rScale = d3.scaleLinear().domain([1, 5]).range([2.5, 4.8]);
const aScale = d3.scaleLinear().domain([1, 5]).range([0.3, 1]);

export default function App() {
  return (
    <svg width={938} height={801} style={{ position: 'absolute', left: 0, top: 0 }} fontFamily={FONT}>
      <defs>
        <filter id="soft" filterUnits="userSpaceOnUse" x={0} y={0} width={938} height={801} colorInterpolationFilters="sRGB">
          <feGaussianBlur stdDeviation={0.4} />
        </filter>
      </defs>
      <rect width={938} height={801} fill="#fff" />
      <g filter="url(#soft)">
        {mapPanels.map((m, i) => {
          const xS = d3.scaleLinear().domain([0, 960]).range([m.ox, m.ox + 320]);
          const yS = d3.scaleLinear().domain([0, 720]).range([m.oy, m.oy + 240]);
          return (
            <g key={m.title}>
              <text x={m.tx} y={m.ty} fontSize={26.6} fill="#999" textAnchor="middle">{m.title}</text>
              <path d={borderPath} transform={`translate(${mapOffset[i][0]},${mapOffset[i][1]})`} fill="none" stroke="#d6d6d6" strokeWidth={0.75} />
              {m.cities.map((c, j) => (
                <circle key={j} cx={xS(c[0])} cy={yS(c[1])} r={rScale(c[2])} fill="#8b4513" fillOpacity={aScale(c[2]) * m.fade} />
              ))}
            </g>
          );
        })}
        {quadPanels.map((q) => {
          const cx = q.left + SPLIT_X;
          const cy = q.top + SPLIT_Y;
          const xS = d3.scaleLinear().domain([-1, 0, 1]).range([q.left, cx, q.left + W]);
          const yS = d3.scaleLinear().domain([-1, 0, 1]).range([q.top + H, cy, q.top]);
          return (
            <g key={q.title}>
              <text x={q.tx} y={q.ty} fontSize={17.7} fill="#999" textAnchor="middle">{q.title}</text>
              {quadrants.map((k) => (
                <g key={k.c}>
                  <rect x={k.sx ? cx : q.left} y={k.sy ? cy : q.top} width={k.sx ? W - SPLIT_X : SPLIT_X} height={k.sy ? H - SPLIT_Y : SPLIT_Y} fill={k.c} shapeRendering="crispEdges" />
                  {k.lines.map((t, n) => (
                    <text key={n} x={q.left + 49.7 + k.sx * 98} y={q.top + 20.7 + k.ly + n * 16.7} fontSize={14.85} fill="#9a9a9a" textAnchor="middle">{t}</text>
                  ))}
                </g>
              ))}
              <rect x={q.left} y={q.top} width={W} height={H} fill="none" stroke="#b5b5b5" strokeWidth={1} />
              {q.change.map((s, j) => (
                <line key={j} x1={xS(s[0])} y1={yS(s[1])} x2={xS(s[2])} y2={yS(s[3])} stroke="#000" strokeOpacity={0.55} strokeWidth={0.9} />
              ))}
            </g>
          );
        })}
      </g>
    </svg>
  );
}
